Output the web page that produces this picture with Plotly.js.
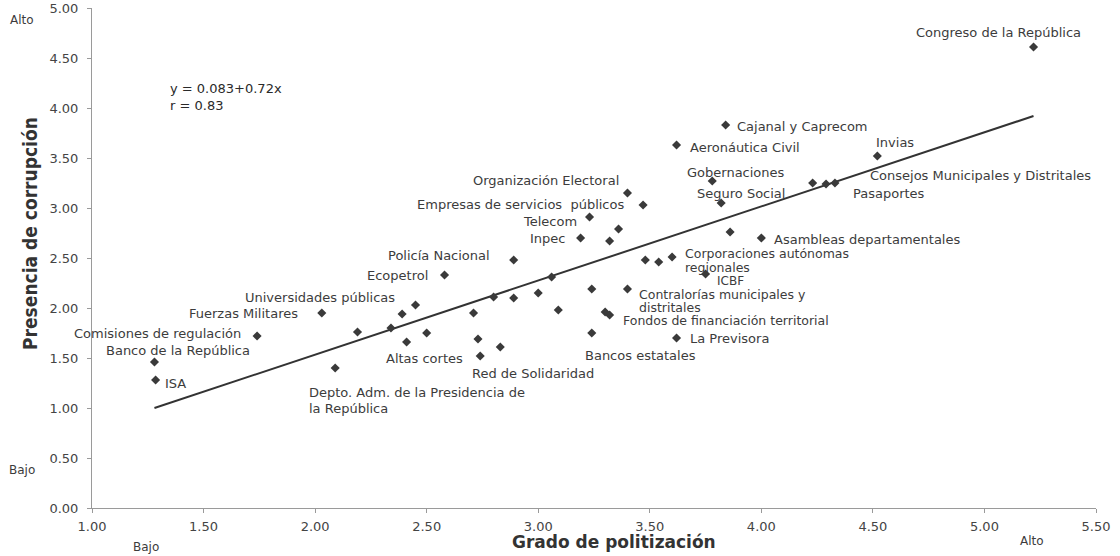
<!DOCTYPE html>
<html>
<head>
<meta charset="utf-8">
<script src="https://cdn.plot.ly/plotly-3.0.1.min.js"></script>
<style>html,body{margin:0;padding:0;background:#fff;}#chart{width:1120px;height:556px;}</style>
</head>
<body>
<div id="chart"></div>
<script>
// ---- Data ----
var orgX = [5.22, 3.84, 3.62, 4.52, 3.78, 4.23, 4.29, 4.33, 3.82, 3.40, 3.47, 3.23, 3.36, 3.19, 3.32,
            3.86, 4.00, 3.48, 3.54, 3.60, 3.75, 2.89, 2.58, 3.06, 3.24, 3.40, 3.00, 2.89, 2.80, 3.09,
            3.30, 3.32, 2.71, 2.45, 2.39, 2.03, 2.19, 2.34, 2.41, 2.50, 1.74, 1.28, 1.285, 2.09,
            2.73, 2.74, 2.83, 3.24, 3.62];
var orgY = [4.61, 3.83, 3.63, 3.52, 3.27, 3.25, 3.24, 3.25, 3.05, 3.15, 3.03, 2.91, 2.79, 2.70, 2.67,
            2.76, 2.70, 2.48, 2.46, 2.51, 2.34, 2.48, 2.33, 2.31, 2.19, 2.19, 2.15, 2.10, 2.11, 1.98,
            1.96, 1.93, 1.95, 2.03, 1.94, 1.95, 1.76, 1.80, 1.66, 1.75, 1.72, 1.46, 1.28, 1.40,
            1.69, 1.52, 1.61, 1.75, 1.70];
var fitX = [1.28, 5.22];
var fitY = [1.00, 3.92];
var xTicks = [1.0, 1.5, 2.0, 2.5, 3.0, 3.5, 4.0, 4.5, 5.0, 5.5];
var yTicks = [0.0, 0.5, 1.0, 1.5, 2.0, 2.5, 3.0, 3.5, 4.0, 4.5, 5.0];
var equationText = 'y = 0.083+0.72x<br>r = 0.83';
var xTitle = 'Grado de politización';
var yTitle = 'Presencia de corrupción';

// ---- Point labels: text, x, y, anchor, font size ----
var labels = [
  ['Congreso de la República', 5.063, 4.76, 'center', 13],
  ['Cajanal y Caprecom', 3.883, 3.82, 'left', 13],
  ['Aeronáutica Civil', 3.673, 3.61, 'left', 13],
  ['Invias', 4.507, 3.66, 'left', 13],
  ['Gobernaciones', 3.659, 3.36, 'left', 13],
  ['Seguro Social', 3.704, 3.15, 'left', 13],
  ['Consejos Municipales y Distritales', 4.480, 3.33, 'left', 13],
  ['Pasaportes', 4.404, 3.15, 'left', 13],
  ['Asambleas departamentales', 4.049, 2.69, 'left', 13],
  ['Corporaciones autónomas', 3.650, 2.55, 'left', 12.5],
  ['regionales', 3.650, 2.41, 'left', 12.5],
  ['ICBF', 3.794, 2.275, 'left', 12],
  ['Contralorías municipales y', 3.444, 2.14, 'left', 12.5],
  ['distritales', 3.444, 2.01, 'left', 12.5],
  ['Fondos de financiación territorial', 3.372, 1.875, 'left', 12.5],
  ['La Previsora', 3.673, 1.70, 'left', 13],
  ['Bancos estatales', 3.457, 1.53, 'center', 13],
  ['Red de Solidaridad', 2.695, 1.35, 'left', 13],
  ['Altas cortes', 2.673, 1.50, 'right', 13],
  ['Depto. Adm. de la Presidencia de', 1.964, 1.16, 'left', 13],
  ['la República', 1.964, 1.00, 'left', 13],
  ['Universidades públicas', 2.368, 2.11, 'right', 13],
  ['Fuerzas Militares', 1.933, 1.95, 'right', 13],
  ['Comisiones de regulación', 1.677, 1.75, 'right', 13],
  ['Banco de la República', 1.717, 1.58, 'right', 13],
  ['ISA', 1.318, 1.25, 'left', 13],
  ['Ecopetrol', 2.516, 2.33, 'right', 13],
  ['Policía Nacional', 2.794, 2.53, 'right', 13],
  ['Inpec', 3.130, 2.70, 'right', 13],
  ['Telecom', 3.184, 2.87, 'right', 13],
  ['Empresas de servicios  públicos', 3.395, 3.04, 'right', 13],
  ['Organización Electoral', 3.372, 3.28, 'right', 13]
];

var txtColor = '#3c3c3c';
var baseFont = 'DejaVu Sans, Liberation Sans, Arial, sans-serif';

var annotations = labels.map(function (l) {
  return {x: l[1], y: l[2], xref: 'x', yref: 'y', text: l[0], showarrow: false,
          xanchor: l[3], yanchor: 'middle', align: 'left',
          font: {family: baseFont, size: l[4], color: txtColor}};
});
annotations.push({x: 1.341, y: 4.115, xref: 'x', yref: 'y', text: equationText, showarrow: false,
  xanchor: 'left', yanchor: 'middle', align: 'left', font: {family: baseFont, size: 13, color: '#2a2a2a'}});
// Alto / Bajo markers on axes
annotations.push({x: -0.0697, y: 0.976, xref: 'paper', yref: 'paper', text: 'Alto', showarrow: false,
  xanchor: 'center', yanchor: 'middle', font: {family: baseFont, size: 12, color: txtColor}});
annotations.push({x: -0.0697, y: 0.076, xref: 'paper', yref: 'paper', text: 'Bajo', showarrow: false,
  xanchor: 'center', yanchor: 'middle', font: {family: baseFont, size: 12, color: txtColor}});
annotations.push({x: 0.0538, y: -0.078, xref: 'paper', yref: 'paper', text: 'Bajo', showarrow: false,
  xanchor: 'center', yanchor: 'middle', font: {family: baseFont, size: 12, color: txtColor}});
annotations.push({x: 0.936, y: -0.066, xref: 'paper', yref: 'paper', text: 'Alto', showarrow: false,
  xanchor: 'center', yanchor: 'middle', font: {family: baseFont, size: 12, color: txtColor}});
// Axis titles (placed as in the reference)
annotations.push({x: 0.52, y: -0.068, xref: 'paper', yref: 'paper', text: xTitle, showarrow: false,
  xanchor: 'center', yanchor: 'middle',
  font: {family: 'DejaVu Sans, Liberation Sans, sans-serif', size: 17, color: '#333', weight: 'bold'}});
annotations.push({x: -0.0618, y: 0.55, xref: 'paper', yref: 'paper', text: yTitle, showarrow: false,
  textangle: -90, xanchor: 'center', yanchor: 'middle',
  font: {family: 'DejaVu Sans Condensed, DejaVu Sans, sans-serif', size: 19, color: '#333', weight: 'bold'}});

var traces = [
  {x: fitX, y: fitY, type: 'scatter', mode: 'lines', line: {color: '#333333', width: 2},
   hoverinfo: 'skip', showlegend: false},
  {x: orgX, y: orgY, type: 'scatter', mode: 'markers',
   marker: {symbol: 'diamond', size: 7, color: '#3a3a3a'}, showlegend: false, cliponaxis: false}
];

var layout = {
  width: 1120, height: 556,
  margin: {l: 92, r: 24, t: 8, b: 48},
  paper_bgcolor: '#ffffff', plot_bgcolor: '#ffffff',
  showlegend: false,
  xaxis: {
    range: [1, 5.5], tickvals: xTicks, tickformat: '.2f',
    showgrid: false, zeroline: false, showline: true, linecolor: '#9a9a9a', linewidth: 1,
    ticks: 'outside', ticklen: 4, tickcolor: '#9a9a9a', ticklabelstandoff: 2,
    tickfont: {family: baseFont, size: 13, color: '#444'}
  },
  yaxis: {
    range: [0, 5], tickvals: yTicks, tickformat: '.2f',
    showgrid: false, zeroline: false, showline: true, linecolor: '#9a9a9a', linewidth: 1,
    ticks: 'outside', ticklen: 4, tickcolor: '#9a9a9a', ticklabelstandoff: 6,
    tickfont: {family: baseFont, size: 13, color: '#444'}
  },
  annotations: annotations
};

Plotly.newPlot('chart', traces, layout, {staticPlot: true, displayModeBar: false});
</script>
</body>
</html>
